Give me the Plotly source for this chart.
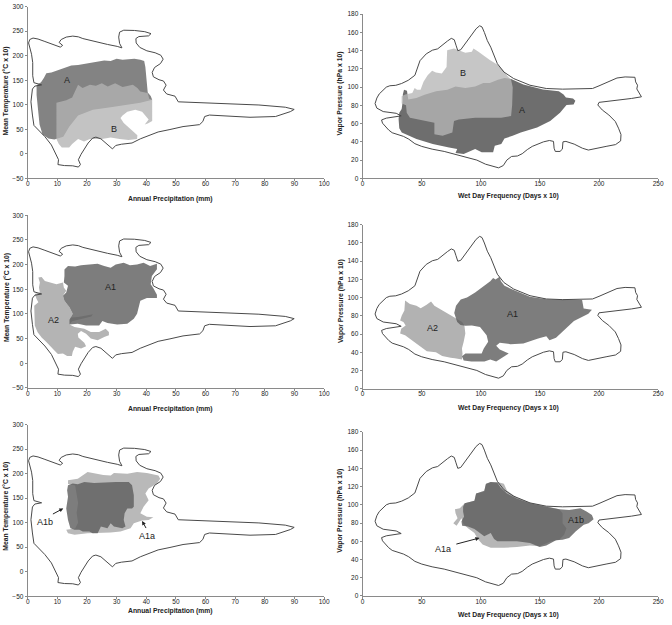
import plotly.graph_objects as go

# ---------------- data ----------------
LEFT_X_TICKS = [0, 10, 20, 30, 40, 50, 60, 70, 80, 90, 100]
LEFT_Y_TICKS = [-50, 0, 50, 100, 150, 200, 250, 300]
RIGHT_X_TICKS = [0, 50, 100, 150, 200, 250]
RIGHT_Y_TICKS = [0, 20, 40, 60, 80, 100, 120, 140, 160, 180]

# climate envelope: annual precipitation (mm) vs mean temperature (degC x 10)
LEFT_OUTLINE = [(0.3,226),(0.7,233),(1.8,236),(3.5,234),(5.8,229),(8,224),(9.8,220),(11,217.5),(11.8,221),
    (10.6,227),(11.3,233),(13,238),(15.2,240),(17.1,238.5),(18.6,235),(22.4,229),(26.9,223),(30.2,219),
    (31.8,216),(31,225),(30.7,238),(31,248),(32.4,252),(36,251.5),(39.5,249),(41.6,245),(40.8,240.5),
    (37.5,239),(36.5,235),(36.6,226),(37.8,217),(40.2,210),(43,206),(44.9,201),(45.7,193),(44.8,184),
    (42.8,176),(42,166),(42.4,157),(44.3,151),(45.8,148.5),(46.7,140),(45.8,130),(46.9,122),(49.7,117.5),
    (50.8,106),(61.3,104),(78,99.5),(86.9,95),(89.9,90.5),(88.6,86),(83.6,76),(75,74.5),(61.3,79),
    (59.7,76),(59.1,66),(58,59.5),(52.4,55.5),(48,49.5),(44,44.5),(38,30.5),(35.2,22),(31.6,19.5),
    (29.7,17),(28.6,10),(27.8,14.5),(26.3,23.5),(24.7,30.5),(23,34),(21.9,32),(20.4,22),(19.1,10),
    (18,-1),(17.1,-12),(17.8,-22),(17.1,-27),(15.2,-24.5),(12.4,-24),(10.2,-22),(10.4,-12),(9.1,5),
    (8,18),(5.8,35),(3.6,48),(2.1,58),(1.6,79),(1.1,106),(1.6,132),(2.4,138),(4.7,140.5),(2.1,145),
    (1.7,159),(1.7,186),(1.3,203),(0.4,220)]

# climate envelope: wet day frequency (days x 10) vs vapour pressure (hPa x 10)
RIGHT_OUTLINE = [(10.5,82),(12,88),(14,92.5),(17,96.5),(20,100),(23,101.5),(28,102),(33,104),(38.6,107.5),
    (44.2,113),(47,122),(48.5,129),(53.8,136.5),(59,140.5),(63.5,142),(67,146),(71.7,150.5),(75,153.5),
    (77.5,152),(79,146),(80.5,140),(83,141),(87,148),(92,157),(96,164),(99,167.3),(101,166),(103,160),
    (105.5,151),(108.4,143.8),(111.2,134.7),(114,125.7),(119.5,116.6),(127.8,109.4),(141.6,102.1),
    (155.4,98.5),(169.2,97.8),(185.7,97.8),(194.5,98.5),(200,101.4),(208.3,105.7),(215.2,110),
    (222.1,111.2),(230.4,110.8),(231,105.7),(232.6,102.1),(232,98),(234.5,93),(235.9,89.4),(227.6,87.6),
    (216.6,85.8),(205.6,84.7),(200,83.3),(199,80.4),(202.8,74.9),(208.3,69.5),(213.8,62.3),(216.5,55),
    (218.6,48),(218.3,41),(214,37),(206,35),(198,33),(191,31),(186,33),(179,37.5),(172,40.5),(169.5,40),
    (169,32),(167,29.5),(163,29.5),(162,33),(161.5,40.5),(158,41.5),(153,40),(147.6,37),(143.5,35),
    (139.3,31.5),(135,27),(131,24.5),(126,24),(122,20),(119,14),(115,11.5),(110,13),(104,15.5),(96.6,20),
    (88,23),(80.8,25),(69,29.5),(58.8,32),(50,35),(44.2,38),(39,43),(34.5,46),(29,48),(25,50),(22,53),
    (19,57),(16.8,60.5),(16,64),(20,66),(32.6,68.5),(28.4,71.3),(17.4,73.2),(12,77)]

# panel 1: regions A and B
P1_A = [(5.5,155),(6.3,164),(8,166),(10,170),(12,174),(14.7,180),(17,181),(20,184),(23,186),(25.8,190),
    (28,189),(30,194),(32,192),(34,193),(36,194),(38,192),(39.3,189),(39.7,177),(40,157),(40.2,137),
    (40.5,125),(41.5,118),(42,110),(38,104),(33,99),(28,95),(22,90),(17,78),(14,55),(12,35),(9,29),
    (7,31),(5,40),(4,60),(3.5,90),(3,120),(3,140),(4.5,146)]
P1_B = [(9.7,104),(13,109),(15,115),(16,130),(17,141),(18.5,134),(21,141),(23,139),(25,144),(27,137),
    (29.5,144),(32,136),(35.5,141),(37,134),(38,127),(40.5,124),(41,112),(42,110),(42,67),(40.5,62),
    (39.5,60),(40.8,70),(39.5,80),(38.6,86),(36.3,90),(33.6,86),(32,78),(31.3,73),(32.4,63),(34.5,52),
    (35.5,45),(37,38),(36.9,30),(34,28),(31,30),(28,33),(25,30),(21,30),(19,25),(17,30),(15,20),(14,13),
    (11.5,13),(10.5,20),(9.7,30),(9.7,60)]

# panel 2: regions A and B
P2_A = [(35,97),(37.5,96),(38.6,86.3),(45.5,88),(52.4,91.7),(62.1,95.4),(71.7,97.2),(78.6,100.8),(86.9,99),
    (95.2,100.8),(102.1,104.4),(107.6,104.4),(114.5,108),(120,110),(125.6,109),(136,103),(152.6,97.5),
    (166,95.5),(170,92),(172,88.5),(178,87.5),(180,85),(178.5,81),(172.5,80.5),(167,72),(158.7,62.8),
    (147.6,55.6),(133.8,50.2),(126.9,46.6),(120,43.7),(117.3,37.5),(111.8,35.7),(110.4,28.5),(100.7,28.5),
    (95.2,32.1),(85.5,26.7),(78.6,27.8),(80,32.1),(73.1,33.9),(59.3,37.5),(45.5,43),(33.1,50.2),(31,55),
    (30.4,65),(31,72),(33,76),(34,85),(34,92)]
P2_B = [(33,82),(33,90),(36,92),(42,93.6),(44,99),(46,97),(49,97),(51.5,106),(55,113),(58.8,118),(62,116),
    (67,115),(71,122),(71.5,140.5),(77.3,142.3),(86.9,137.6),(92.4,138.7),(93.8,142.3),(98,138.7),(103,134),
    (107.6,129.7),(114.5,124.3),(118.7,118.9),(122,113),(125.6,108),(127,100),(127,93),(126.5,80),
    (125.6,68.3),(117.3,66.5),(95.2,66.5),(81.4,64.6),(77.3,62.8),(75.9,50.2),(67.6,46.6),(60.7,48.4),
    (60.7,61),(48.3,64.6),(40,66.5),(37.3,71.9),(36.7,80)]

# panel 3: regions A1 and A2
P3_A1 = [(12.4,177),(12.4,190),(13.6,197),(16,196),(18,199),(20.2,200),(23.6,201.7),(25.8,197),(28,193.7),
    (29.7,200.4),(32.4,203.7),(34.5,199),(36.9,200.4),(39.1,203.7),(41.3,197),(43.6,201.7),(43.6,190.4),
    (41.9,177),(41.5,160),(42.4,152.3),(43.6,139),(43.6,132.3),(40.2,132.3),(38,127),(37.4,113.6),
    (36.9,100.2),(35.8,90.2),(33.6,80.2),(30.2,78.8),(26.9,81.5),(25.2,85.5),(24.1,76.8),(19.7,76.8),
    (16.9,80.2),(14.1,78.8),(14.1,88.2),(15.2,100.2),(14.1,113.6),(12.4,126.9),(11.9,137),(13,143.6),
    (13.6,157),(12.2,163.7)]
P3_A2 = [(3.6,173.7),(4.7,175),(5.8,167),(8,163.7),(9.7,160.3),(11.9,163.7),(12.2,153.6),(13,147),
    (11.9,137),(12.4,126.9),(14.1,113.6),(15.2,100.2),(14.5,93),(17,94),(20,97),(22,99.5),(21.5,95),
    (18,90),(15,85),(14.1,78.8),(15.8,73.5),(19.1,70.1),(21.3,63.5),(24.1,63.5),(26.3,70.1),(27.4,63.5),
    (27.4,56.8),(25.8,53.4),(23.6,46.8),(21.3,50.1),(19.7,60.1),(18,65.5),(16.9,60.1),(17.1,52.1),
    (19.1,41.4),(19.7,34.7),(18,30.1),(16,33.4),(15.2,23.4),(14.9,14.7),(13.3,14.7),(11.9,20),(10.2,18.7),
    (9.1,25.4),(8,33.4),(6.3,43.4),(4.7,52.1),(3.3,63.5),(2.4,76.8),(2.4,96.9),(2.2,116.9),(3.6,123.6),
    (3,130.3),(2.4,140.3),(4.1,143.6),(3.8,153.6),(4.1,163.7)]

# panel 4: regions A1 and A2
P4_A1 = [(77.5,83),(79,91),(83,98),(88.3,100),(95.2,105.7),(99.3,109.4),(105,115),(108,118),(110.4,121.5),
    (112.5,120),(115.9,123),(117,118),(120,113),(127.8,108.3),(141.6,101),(155.4,98.2),(169.2,97.8),
    (185.7,97.4),(187,88),(194,86.6),(191,82.2),(185.7,78.6),(178.8,74.2),(174.7,69.5),(169.2,62.3),
    (163.6,55.8),(158.1,53.2),(155.4,57.6),(148.5,55.1),(136,49.6),(125,48.9),(116,50.5),(113,47),(116,43),
    (123.6,38.5),(119,35),(113,29.7),(108,32),(103,29.7),(92,29.7),(85.5,31),(84,35.5),(87,38.7),
    (100.7,38.7),(102.5,44.2),(106.2,51.4),(104.9,58.6),(99.3,67.7),(92.4,69.5),(87,69),(82.8,70),(80,73.2)]
P4_A2 = [(35.9,96.7),(40,93),(45.5,91.2),(49.1,88.3),(53.8,92),(57.9,95.6),(60.7,91.2),(66.2,86.9),
    (71.7,82.2),(78.6,77.5),(84.2,73.2),(86.1,69.5),(86.9,60.5),(85.5,51.4),(84,44),(84.5,38.7),(84,32),
    (78,33.5),(74.5,34),(67.3,36),(62,40),(54.3,41),(50,45),(47.5,48),(44.2,51.4),(40,55),(35.9,58.6),
    (31.7,60.5),(32.6,65.9),(36.4,69.5),(34.5,73.2),(31.7,75),(33.1,80.4),(35.3,85.8),(35.9,91.2)]

# panel 5: regions A1a and A1b
P5_A1A = [(13.6,186.3),(16.9,189.6),(20.2,203.1),(23.6,198.4),(25.5,197),(28,196.4),(29.1,201.1),
    (33.6,199.7),(36.9,203.1),(40.2,201.1),(44.1,196.4),(44.7,189.6),(43.6,179.6),(40.8,169.5),
    (39.7,159.4),(40.8,145.9),(39.1,132.5),(38,119),(40.2,112.3),(42.4,111),(40.8,105.6),(38.6,104.2),
    (35.8,98.9),(34.7,88.8),(31.3,82),(28,80),(23.6,80),(20.2,78.7),(15.8,75.3),(13.6,78.7),(13,85.4),
    (16,88),(17,100),(16.5,120),(17,140),(16.5,160),(16,176),(13.6,179)]
P5_A1B = [(13.6,176.2),(15.2,179.6),(16.9,178.2),(19.1,182.9),(22.4,180.9),(26.9,182.9),(29.7,182.9),
    (34.1,182.9),(35.2,176.2),(35.8,156),(35.8,132.5),(35.2,129.1),(33.6,129.1),(32.7,119),(32.4,105.6),
    (33,92.1),(31.9,88.8),(29.1,92.1),(28,98.9),(26.9,88.8),(24.7,92.1),(23.6,78.7),(21.9,78.7),(20.8,82),
    (18.6,82),(17.4,85.4),(15.8,85.4),(14.4,88.8),(13.6,105.6),(13,129.1),(13.6,152.7),(13.3,166.1)]

# panel 6: regions A1a and A1b
P6_A1A = [(78.1,95),(82.2,96.1),(86.4,101.6),(94.6,104.4),(96,112.4),(102.9,114.2),(104.3,122.5),
    (108.4,125),(114,125),(119.5,123.2),(122.2,115.3),(130.5,108.1),(141.6,102.3),(155.4,98.7),(166.4,95),
    (169.2,90.7),(169.2,79.9),(172.5,74.4),(170.5,67.2),(166.4,61.8),(159.5,60),(149.8,54.6),(141.6,55.3),
    (130.5,53.8),(119.5,52.8),(108.4,52.8),(101.5,56.4),(97.4,62.5),(94.6,69),(89.1,74.4),(85,79.9),
    (83.6,85.3),(79.5,77),(76.7,79.9),(80.3,85.3),(78.6,90.7)]
P6_A1B = [(85,97.9),(86.4,101.6),(94.6,104.4),(96,112.4),(102.9,115.3),(104.3,123.2),(108.4,125),(114,124.3),
    (116.7,118.9),(122.2,112.4),(130.5,107),(141.6,101.6),(155.4,97.9),(166.4,95),(174.7,94.3),(184.3,96.1),
    (189.8,92.5),(194,88.9),(195.4,84.2),(191.2,79.9),(187.1,78.1),(180.2,70.8),(174.7,63.6),(169.2,61.8),
    (163.6,61.1),(155.4,55.3),(149.8,53.8),(145.7,56.4),(141.6,58.2),(130.5,60),(119.5,60),(114,60),
    (111.2,62.5),(108.4,69),(102.9,65.4),(98.8,69.8),(94.6,73.4),(89.1,76.3),(84.2,77),(83.6,81.7),
    (85.8,87.1),(85,92.5)]

# region labels (text, x, y) per panel
LABELS = {
    1: [("A", 13.3, 150), ("B", 29.1, 50)],
    2: [("B", 85, 115), ("A", 134.7, 75)],
    3: [("A1", 27.8, 155), ("A2", 8.6, 87)],
    4: [("A1", 127.2, 82), ("A2", 58.8, 67)],
    5: [("A1b", 5.8, 102), ("A1a", 40.2, 72)],
    6: [("A1b", 180.2, 83.5), ("A1a", 68.4, 51)],
}
# arrows (panel, tail x, tail y, head x, head y)
ARROWS = [(5, 8.0, 116, 12.0, 129), (5, 40.2, 86, 38.6, 103.5), (6, 78, 56.5, 98.8, 63.6)]

# ---------------- layout helpers ----------------
W, H = 672, 625
FONT = "Liberation Sans, Arial, sans-serif"

# pixel boxes (left, right, top, bottom)
BOX = {1: (26, 326, 2.7, 176.3), 2: (365, 664, 10.3, 176.3),
       3: (26, 326, 213.7, 388.3), 4: (365, 664, 223.3, 389.0),
       5: (26, 326, 425.3, 599.0), 6: (365, 664, 432.7, 598.7)}
XTITLE_Y = {1: 197, 2: 194.5, 3: 409.5, 4: 408.5, 5: 614, 6: 618}
YTITLE = {1: (4.5, 88), 2: (342.5, 90), 3: (4.5, 297), 4: (342.5, 300), 5: (4.5, 508), 6: (342.5, 512)}

FILLS = {
    1: [(P1_A, "rgb(131,131,131)"), (P1_B, "rgba(178,178,178,0.78)")],
    2: [(P2_A, "rgb(110,110,110)"), (P2_B, "rgba(182,182,182,0.78)")],
    3: [(P3_A2, "rgb(180,180,180)"), (P3_A1, "rgba(92,92,92,0.8)")],
    4: [(P4_A2, "rgb(178,178,178)"), (P4_A1, "rgba(92,92,92,0.8)")],
    5: [(P5_A1A, "rgb(185,185,185)"), (P5_A1B, "rgba(92,92,92,0.8)")],
    6: [(P6_A1A, "rgb(182,182,182)"), (P6_A1B, "rgba(92,92,92,0.8)")],
}

fig = go.Figure()
layout = dict(width=W, height=H, margin=dict(l=0, r=0, t=0, b=0), showlegend=False,
              plot_bgcolor="white", paper_bgcolor="white", font=dict(family=FONT, color="#222"))
annotations = []

for n in range(1, 7):
    left = n % 2 == 1
    l, r, t, b = BOX[n]
    xa = "x" if n == 1 else f"x{n}"
    ya = "y" if n == 1 else f"y{n}"
    outline = LEFT_OUTLINE if left else RIGHT_OUTLINE
    for poly, col in FILLS[n]:
        xs = [p[0] for p in poly] + [poly[0][0]]
        ys = [p[1] for p in poly] + [poly[0][1]]
        fig.add_trace(go.Scatter(x=xs, y=ys, mode="lines", fill="toself", fillcolor=col,
                                 line=dict(width=0), hoverinfo="skip", xaxis=xa, yaxis=ya))
    xs = [p[0] for p in outline] + [outline[0][0]]
    ys = [p[1] for p in outline] + [outline[0][1]]
    fig.add_trace(go.Scatter(x=xs, y=ys, mode="lines", line=dict(color="#4a4a4a", width=1),
                             hoverinfo="skip", xaxis=xa, yaxis=ya))

    axis_common = dict(showline=True, linecolor="#8a8a8a", linewidth=1, ticks="outside", ticklen=2,
                       tickcolor="#8a8a8a", tickfont=dict(size=6.5, color="#222", family=FONT),
                       showgrid=False, zeroline=False, fixedrange=True)
    key_x = "xaxis" if n == 1 else f"xaxis{n}"
    key_y = "yaxis" if n == 1 else f"yaxis{n}"
    layout[key_x] = dict(axis_common, domain=[l / W, r / W], anchor=ya,
                         range=[0, 100] if left else [0, 250], ticklabelstandoff=-3,
                         tickmode="array", tickvals=LEFT_X_TICKS if left else RIGHT_X_TICKS)
    layout[key_y] = dict(axis_common, domain=[1 - b / H, 1 - t / H], anchor=xa,
                         range=[-50, 300] if left else [0, 180],
                         tickmode="array", tickvals=LEFT_Y_TICKS if left else RIGHT_Y_TICKS)

    xt = "Annual Precipitation (mm)" if left else "Wet Day Frequency (Days x 10)"
    yt = "Mean Temperature (°C x 10)" if left else "Vapor Pressure (hPa x 10)"
    annotations.append(dict(text=f"<b>{xt}</b>", xref="paper", yref="paper",
                            x=(171 if left else 513) / W, y=1 - XTITLE_Y[n] / H,
                            showarrow=False, xanchor="center", yanchor="middle",
                            font=dict(size=6.8, color="#222", family=FONT)))
    annotations.append(dict(text=f"<b>{yt}</b>", xref="paper", yref="paper",
                            x=YTITLE[n][0] / W, y=1 - YTITLE[n][1] / H, textangle=-90,
                            showarrow=False, xanchor="center", yanchor="middle",
                            font=dict(size=6.8, color="#222", family=FONT)))
    for txt, lx, ly in LABELS[n]:
        annotations.append(dict(text=txt, x=lx, y=ly, xref=xa, yref=ya, showarrow=False,
                                font=dict(size=9, color="#222", family=FONT)))

for n, tx, ty, hx, hy in ARROWS:
    xa = "x" if n == 1 else f"x{n}"
    ya = "y" if n == 1 else f"y{n}"
    annotations.append(dict(text="", x=hx, y=hy, xref=xa, yref=ya, ax=tx, ay=ty, axref=xa, ayref=ya,
                            showarrow=True, arrowhead=2, arrowsize=0.8, arrowwidth=1, arrowcolor="#222"))

layout["annotations"] = annotations
fig.update_layout(**layout)
fig.write_html("out.html", config={"displayModeBar": False},
               post_script="document.body.style.margin='0';document.body.style.padding='0';"
                           "document.documentElement.style.overflow='hidden';")
